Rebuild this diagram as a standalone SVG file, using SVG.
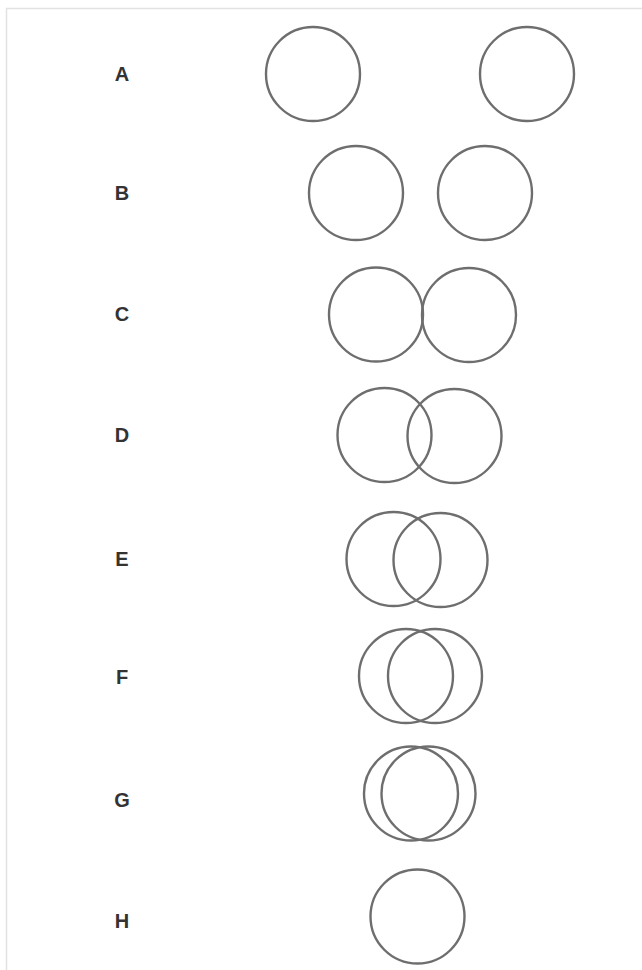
<svg xmlns="http://www.w3.org/2000/svg" width="642" height="970" viewBox="0 0 642 970">
<style>
.c{fill:none;stroke:#6e6e6e;stroke-width:2.4}
.l{font-family:"Liberation Sans",Arial,sans-serif;font-weight:bold;font-size:20px;fill:#333;text-anchor:middle}
.b{fill:none;stroke:#e2e2e2;stroke-width:1.5}
</style>
<rect width="642" height="970" fill="#fff"/>
<path class="b" d="M642 8.5H6.5V970"/>
<g id="rowA"><text class="l" x="122" y="81">A</text><circle class="c" cx="313" cy="74" r="47"/><circle class="c" cx="527" cy="74" r="47"/></g>
<g id="rowB"><text class="l" x="122" y="200">B</text><circle class="c" cx="356" cy="193" r="47"/><circle class="c" cx="485" cy="193" r="47"/></g>
<g id="rowC"><text class="l" x="122" y="321">C</text><circle class="c" cx="376" cy="314.5" r="47"/><circle class="c" cx="469" cy="315" r="47"/></g>
<g id="rowD"><text class="l" x="122" y="442">D</text><circle class="c" cx="384.5" cy="435" r="47"/><circle class="c" cx="454.5" cy="436" r="47"/></g>
<g id="rowE"><text class="l" x="122" y="566">E</text><circle class="c" cx="393.5" cy="559" r="47"/><circle class="c" cx="440.5" cy="560" r="47"/></g>
<g id="rowF"><text class="l" x="122" y="684">F</text><circle class="c" cx="406" cy="676" r="47"/><circle class="c" cx="435" cy="676" r="47"/></g>
<g id="rowG"><text class="l" x="122" y="807">G</text><circle class="c" cx="411" cy="793.5" r="47"/><circle class="c" cx="428.5" cy="793.5" r="47"/></g>
<g id="rowH"><text class="l" x="122" y="928">H</text><circle class="c" cx="417.5" cy="916.5" r="47"/></g>
</svg>
